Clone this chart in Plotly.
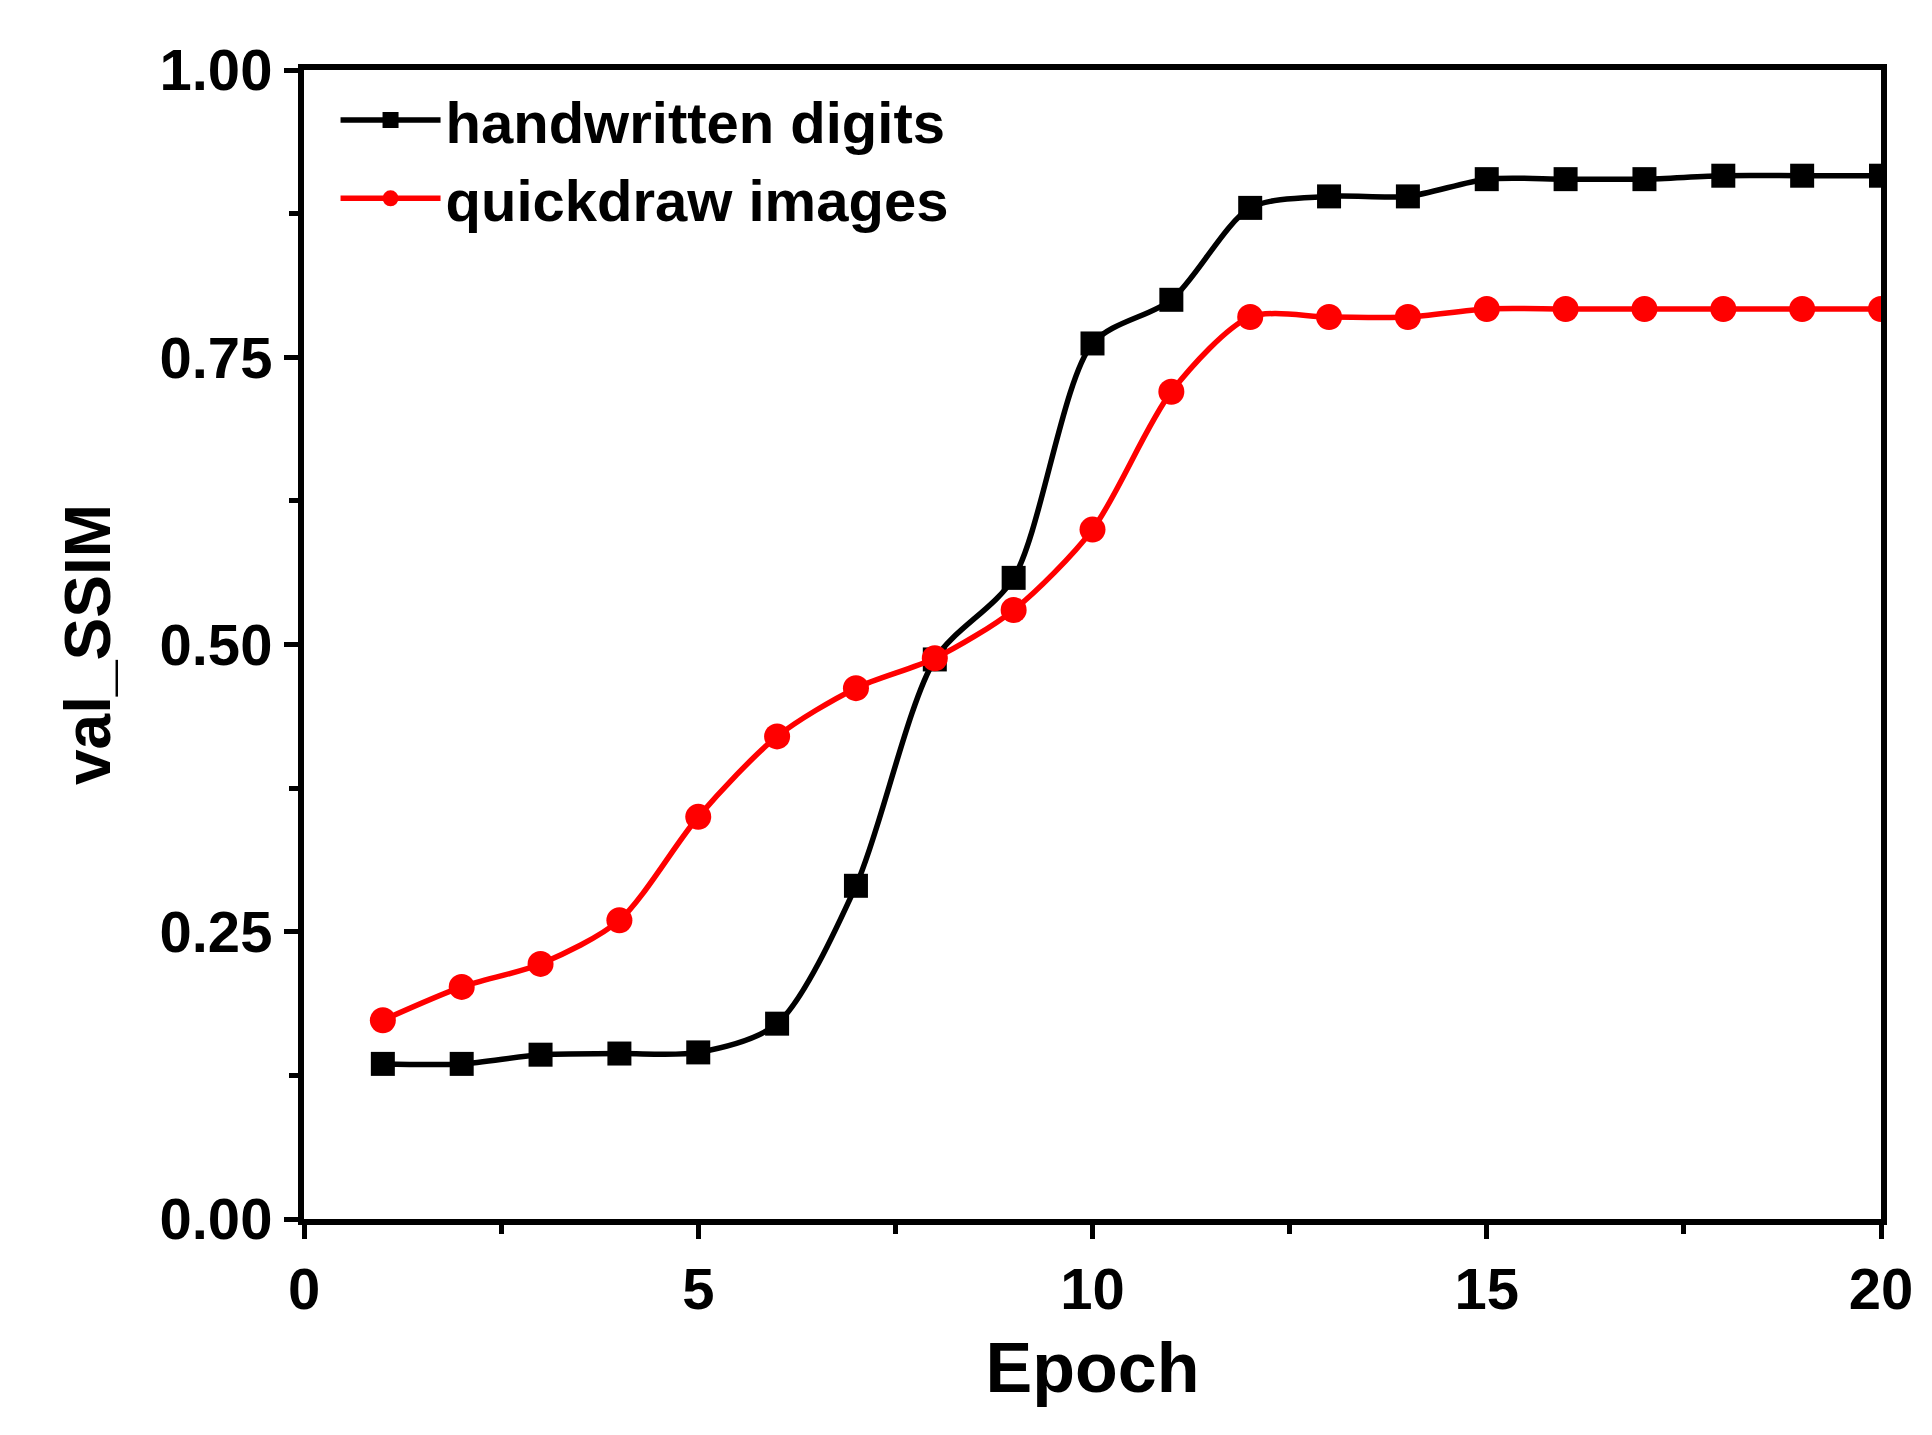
import plotly.graph_objects as go

epochs = list(range(1, 21))
handwritten = [0.135, 0.135, 0.143, 0.144, 0.145, 0.17, 0.29, 0.487, 0.558, 0.762,
               0.80, 0.88, 0.89, 0.89, 0.905, 0.905, 0.905, 0.908, 0.908, 0.908]
quickdraw = [0.173, 0.202, 0.222, 0.26, 0.35, 0.42, 0.462, 0.488, 0.53, 0.60,
             0.72, 0.785, 0.785, 0.785, 0.792, 0.792, 0.792, 0.792, 0.792, 0.792]

FONT = "Liberation Sans"

fig = go.Figure()
fig.add_trace(go.Scatter(x=epochs, y=handwritten, name="<b>handwritten digits</b>",
                         mode="lines+markers",
                         line=dict(color="black", width=5.5, shape="spline", smoothing=0.8),
                         marker=dict(symbol="square", size=24, color="black")))
fig.add_trace(go.Scatter(x=epochs, y=quickdraw, name="<b>quickdraw images</b>",
                         mode="lines+markers",
                         line=dict(color="#ff0000", width=5.5, shape="spline", smoothing=0.8),
                         marker=dict(symbol="circle", size=26, color="#ff0000")))

axis = dict(showgrid=False, zeroline=False, showline=True, linecolor="black",
            linewidth=6, mirror=True, ticks="outside", tickwidth=5, ticklen=14,
            tickcolor="black",
            tickfont=dict(family=FONT, size=58, color="black", weight="bold"))

fig.update_layout(
    width=1932, height=1435,
    plot_bgcolor="white", paper_bgcolor="white",
    margin=dict(l=296, r=59, t=62, b=224),
    font=dict(family=FONT, color="black"),
    xaxis=dict(axis, range=[0, 20], tickvals=[0, 5, 10, 15, 20],
               minor=dict(tickvals=[2.5, 7.5, 12.5, 17.5], ticks="outside",
                          ticklen=9, tickwidth=5, tickcolor="black"),
               title=dict(text="<b>Epoch</b>", font=dict(family=FONT, size=70), standoff=25)),
    yaxis=dict(axis, range=[0, 1], tickvals=[0, 0.25, 0.5, 0.75, 1.0], tickformat=".2f",
               minor=dict(tickvals=[0.125, 0.375, 0.625, 0.875], ticks="outside",
                          ticklen=9, tickwidth=5, tickcolor="black"),
               title=dict(text="<b>val_SSIM</b>", font=dict(family=FONT, size=64), standoff=30)),
    legend=dict(x=0.02, y=0.995, xanchor="left", yanchor="top",
                bgcolor="rgba(0,0,0,0)", font=dict(family=FONT, size=58),
                itemwidth=100, tracegroupgap=0),
)

fig.write_html("out.html")
